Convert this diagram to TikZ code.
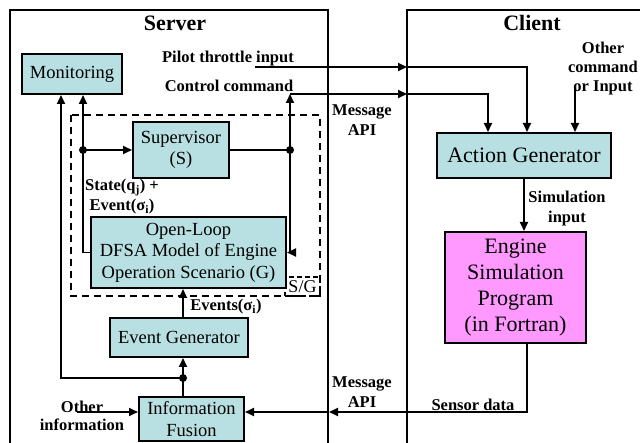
\documentclass[tikz,border=0pt]{standalone}
\usepackage{fontspec}
\setmainfont{Liberation Serif}
\usetikzlibrary{arrows.meta}
\definecolor{boxcyan}{HTML}{B8E0E2}
\definecolor{boxpink}{HTML}{FF99FF}
\begin{document}
\begin{tikzpicture}[x=1pt,y=-1pt,
  box/.style={draw=black,line width=2pt,fill=boxcyan,align=center,inner sep=0pt,
    font=\fontsize{18.5}{21.5}\selectfont},
  bigbox/.style={draw=black,line width=2pt,align=center,inner sep=0pt,
    font=\fontsize{22}{26}\selectfont},
  lbl/.style={align=center,inner sep=0pt,font=\bfseries\fontsize{16.5}{20}\selectfont},
  ttl/.style={inner sep=0pt,font=\bfseries\fontsize{22}{26}\selectfont},
  arr/.style={line width=1.8pt,-{Triangle[length=9pt,width=8pt]}},
  ln/.style={line width=1.8pt},
  dot/.style={circle,fill=black,inner sep=0pt,minimum size=8pt},
  frame/.style={line width=1.8pt}
]
\useasboundingbox (0,0) rectangle (640,443);
% frames
\draw[frame] (10,443) -- (10,10) -- (328,10) -- (328,443);
\draw[frame] (407,443) -- (407,10) -- (640,10);
\node[ttl] (tS) at (175,23) {Server};
\node[ttl] (tC) at (532,23) {Client};
% dashed S/G box
\draw[dashed,line width=1.8pt,dash pattern=on 7pt off 5pt] (71,115) rectangle (320,296);
\node[draw,dashed,line width=1.5pt,dash pattern=on 5pt off 3pt,inner sep=0pt,minimum width=35pt,minimum height=19pt,
  font=\fontsize{18}{20}\selectfont] (SG) at (302.5,286.5) {S/G};
% boxes
\node[box,minimum width=100pt,minimum height=40pt] (Mon) at (72,74) {Monitoring};
\node[box,minimum width=96pt,minimum height=56pt] (S) at (181,150) {Supervisor\\(S)};
\node[box,minimum width=195pt,minimum height=71pt] (G) at (188.5,252.5) {Open-Loop\\DFSA Model of Engine\\Operation Scenario (G)};
\node[box,minimum width=138pt,minimum height=39pt] (EG) at (179,337.5) {Event Generator};
\node[box,minimum width=105pt,minimum height=44pt] (IF) at (191.5,419) {Information\\Fusion};
\node[bigbox,fill=boxcyan,minimum width=174pt,minimum height=45pt] (AG) at (524,155.5) {Action Generator};
\node[bigbox,fill=boxpink,minimum width=141pt,minimum height=111pt] (ES) at (515.5,287.5) {Engine\\Simulation\\Program\\(in Fortran)};
% coordinates
\coordinate (xL1) at (61,0);
\coordinate (xL2) at (83,0);
\coordinate (xR) at (290,0);
\coordinate (xEv) at (183,0);
\coordinate (p1) at (255,67);
\coordinate (p2) at (407,67);
\coordinate (x527) at (527,0);
\coordinate (c1) at (290,94);
\coordinate (c2) at (407,94);
\coordinate (x488) at (488,0);
\coordinate (o1) at (575,88);
\coordinate (ys) at (0,412);
\coordinate (sb) at (329,412);
\coordinate (oi) at (77,412);
% dots
\node[dot] (d1) at (xL2 |- S.west) {};
\node[dot] (d2) at (xR |- S.east) {};
\node[dot] (d3) at (183,378) {};
% connectors
\draw[arr] (IF.north -| xEv) -- (EG.south -| xEv);
\draw[arr] (d3.center) -| (Mon.south -| xL1);
\draw[arr] (EG.north -| xEv) -- (G.south -| xEv);
\draw[arr] (G.west) -| (Mon.south -| xL2);
\draw[arr] (d1.center) -- (S.west);
\draw[ln] (S.east) -- (d2.center);
\draw[ln] (d2.center) -- (xR |- G.east);
\draw[arr] (xR |- G.east) -- (G.east);
\draw[arr] (d2.center) -- (c1);
\draw[arr] (c1) -- (c2);
\draw[arr] (c2) -| (AG.north -| x488);
\draw[arr] (p1) -- (p2);
\draw[arr] (p2) -| (AG.north -| x527);
\draw[arr] (o1) -- (AG.north -| o1);
\draw[arr] (AG.south) -- (ES.north -| AG.south);
\draw[arr] (ES.south -| x527) |- (sb);
\draw[arr] (sb) -- (IF.east |- ys);
\draw[arr] (oi) -- (IF.west |- ys);
% labels
\node[lbl] (lp) at (228,59) {Pilot throttle input};
\node[lbl] (lc) at (229,86) {Control command};
\node[lbl] (lm1) at (362,120) {Message\\API};
\node[lbl,font=\bfseries\fontsize{16.5}{19}\selectfont] (lo) at (603,69) {Other\\command\\or Input};
\node[lbl] (lsi) at (567,209) {Simulation\\input};
\node[lbl] (lsd) at (473,405) {Sensor data};
\node[lbl] (lm2) at (362,392) {Message\\API};
\node[lbl,font=\bfseries\fontsize{16.5}{18.5}\selectfont] (loi) at (82,416) {Other\\information};
\node[lbl] (lst) at (122,197) {State(q\textsubscript{j}) +\\Event(σ\textsubscript{i})};
\node[lbl] (lev) at (226,307) {Events(σ\textsubscript{i})};
\end{tikzpicture}
\end{document}
